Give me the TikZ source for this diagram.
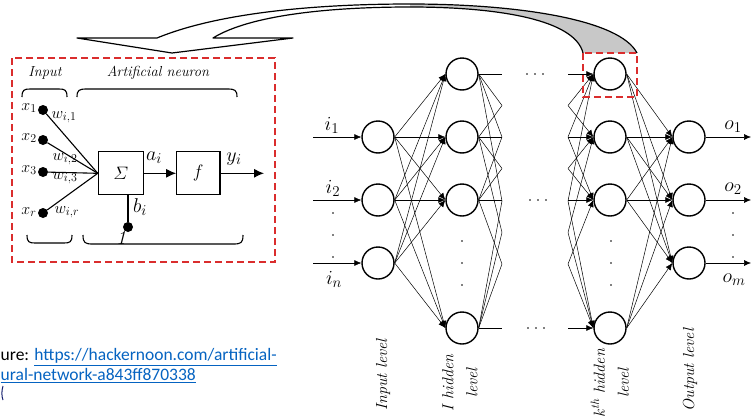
\RequirePackage{fix-cm}
\documentclass[tikz,border=0pt]{standalone}
\usepackage{amsmath}
\usepackage{fontspec}
\newfontfamily\linkfont{Carlito}
\usetikzlibrary{arrows.meta,calc}
\DeclareMathSizes{20}{20}{15}{11}
\DeclareMathSizes{16}{16}{12}{9}
\DeclareMathSizes{18}{18}{13.5}{10}
\definecolor{dashred}{RGB}{218,45,45}
\definecolor{linkblue}{RGB}{5,99,193}
\definecolor{navymark}{RGB}{20,30,110}
\definecolor{backside}{RGB}{200,200,200}

\begin{document}
\begin{tikzpicture}[x=1pt,y=-1pt,
  neuron/.style={circle,draw,line width=1.4pt,minimum size=32pt,inner sep=0pt},
  conn/.style={line width=0.5pt,-{Latex[length=7pt,width=6pt]}},
  part/.style={line width=0.5pt},
  pdot/.style={circle,fill,inner sep=0pt,minimum size=1.8pt},
  lab/.style={font=\fontsize{20}{22}\selectfont},
  levellab/.style={font=\itshape\fontsize{16}{24}\selectfont,rotate=90,align=center},
  inp/.style={circle,fill,inner sep=0pt,minimum size=10pt},
  unit/.style={draw,line width=1.1pt,minimum height=43pt,inner sep=0pt},
  wline/.style={line width=1.1pt},
  flow/.style={line width=1.1pt,-{Latex[length=10pt,width=9pt]}},
  small/.style={font=\fontsize{16}{18}\selectfont},
  mid/.style={font=\fontsize{20}{22}\selectfont},
  head/.style={font=\itshape\fontsize{14.5}{17}\selectfont},
  reddash/.style={draw=dashred,line width=1.5pt,dash pattern=on 7pt off 4pt},
  bracket/.style={line width=1.1pt}
]
\useasboundingbox (0,0) rectangle (753,418);

% ---------- curved block arrow from the k-th layer to the neuron detail ----------
\fill[backside] (637,53) .. controls (620,20) and (520,4) .. (410,4)
   -- (410,7) .. controls (500,7) and (575,20) .. (583,53) -- cycle;
\draw[line width=1.2pt,line join=round]
   (583,53) .. controls (575,20) and (500,7) .. (410,7)
   .. controls (330,7) and (250,15) .. (213,38)
   -- (293,38) -- (172,53) -- (77,38) -- (157,38)
   .. controls (220,12) and (320,4) .. (410,4)
   .. controls (520,4) and (620,20) .. (637,53);

% ---------- artificial neuron detail ----------
\draw[reddash] (12,58) rectangle (275,262);

\node[head] (hin) at (45,73) {Input};
\node[head] (hneu) at (158,73) {Artificial neuron};

\draw[bracket] (22,97) .. controls (22,90) and (24,89) .. (30,89) -- (59,89)
   .. controls (65,89) and (67,90) .. (67,97);
\draw[bracket] (77,97) .. controls (77,90) and (79,89) .. (87,89) -- (227,89)
   .. controls (235,89) and (237,90) .. (237,97);
\draw[bracket] (27,235) .. controls (27,242) and (29,243) .. (35,243) -- (64,243)
   .. controls (70,243) and (72,242) .. (72,235);
\draw[bracket] (83,235) .. controls (83,243) and (85,244) .. (93,244) -- (233,244)
   .. controls (241,244) and (243,243) .. (243,235);

\node[unit,minimum width=45pt,font=\fontsize{18}{20}\selectfont] (sum) at (120.8,173.3) {$\varSigma$};
\node[unit,minimum width=43.3pt,font=\fontsize{18}{20}\selectfont] (act) at (198.3,173.3) {$f$};
\coordinate (yout) at (264,173.3);

\node[inp] (x1) at (43,110) {};
\node[inp] (x2) at (43,140) {};
\node[inp] (x3) at (43,172) {};
\node[inp] (xr) at (43,213) {};
\node[inp] (bias) at (128,227) {};

\foreach \n in {x1,x2,x3,xr} \draw[wline] (\n) -- (sum.west);
\draw[wline] (bias) -- (bias |- sum.south);
\draw[flow] (sum) -- (act);
\draw[flow] (act) -- (yout);

\node[small] (lx1) at (29,108) {$x_1$};
\node[small] (lx2) at (29,138) {$x_2$};
\node[small] (lx3) at (29,170) {$x_3$};
\node[small] (lxr) at (29,212) {$x_r$};
\node[small] (lw1) at (64,117) {$w_{i,1}$};
\node[small] (lw2) at (65,159) {$w_{i,2}$};
\node[small] (lw3) at (65,178) {$w_{i,3}$};
\node[small] (lwr) at (67,212) {$w_{i,r}$};
\node[mid] (la) at (154,158) {$a_i$};
\node[mid] (ly) at (234,159) {$y_i$};
\node[mid] (lb) at (140,207) {$b_i$};
\node[mid] (lone) at (121,238) {\itshape 1};

% ---------- multilayer network ----------
\foreach \j/\y in {1/137,2/200,3/263} \node[neuron] (n\j) at (378,\y) {};
\foreach \j/\y in {1/74,2/137,3/200,4/328} \node[neuron] (h\j) at (462,\y) {};
\foreach \j/\y in {1/74,2/137,3/200,4/328} \node[neuron] (k\j) at (610,\y) {};
\foreach \j/\y in {1/137,2/200,3/263} \node[neuron] (o\j) at (689,\y) {};

% inputs and outputs
\foreach \j/\y in {1/137,2/200,3/263} {
  \coordinate (ia\j) at (313,\y);
  \draw[conn] (ia\j) -- (n\j.west);
  \coordinate (oa\j) at (751,\y);
  \draw[conn] (o\j.east) -- (oa\j);
}
\node[lab] (li1) at (332,125) {$i_1$};
\node[lab] (li2) at (333,188) {$i_2$};
\node[lab] (lin) at (334,279) {$i_n$};
\node[lab] (lo1) at (733,127) {$o_1$};
\node[lab] (lo2) at (733,189) {$o_2$};
\node[lab] (lom) at (734,280) {$o_m$};
\foreach \y in {213,235,257} {
  \node[pdot] at (333,\y) {};
  \node[pdot] at (733,\y) {};
}

% input level -> first hidden level
\foreach \a in {1,2,3} \foreach \b in {1,2,3,4} \draw[conn] (n\a.east) -- (h\b.west);

% first hidden level fanning out, k-th hidden level fanning in
\foreach \a/\ya in {1/74,2/137,3/200,4/328} {
  \foreach \b/\yb in {1/74,2/137,3/200,4/328} {
    \coordinate (p\a\b) at (502,{(\ya+\yb)/2});
    \draw[part] (h\a.east) -- (p\a\b);
    \coordinate (q\a\b) at (568,{(\ya+\yb)/2});
    \draw[conn] (q\a\b) -- (k\b.west);
  }
}

% k-th hidden level -> output level
\foreach \a in {1,2,3,4} \foreach \b in {1,2,3} \draw[conn] (k\a.east) -- (o\b.west);

% ellipses
\foreach \x in {527,535,543} {
  \node[pdot] at (\x,74) {};
  \node[pdot] at (\x+3,200) {};
  \node[pdot] at (\x+1,328) {};
}
\foreach \y in {241,263,285} {
  \node[pdot] at (462,\y) {};
  \node[pdot] at (611,\y) {};
}

\draw[reddash] (583,53) rectangle (637,97);

% level captions
\node[levellab] (cap1) at (383,375) {Input level};
\node[levellab] (cap2) at (460,383) {I hidden\\level};
\node[levellab] (cap3) at (610,383) {k\textsuperscript{th} hidden\\level};
\node[levellab] (cap4) at (690,370) {Output level};

% ---------- source note ----------
\node[anchor=base west,inner sep=0pt,font=\linkfont\fontsize{17.5}{20}\selectfont] (src1) at (0.5,360)
  {ure: \textcolor{linkblue}{\underline{https://hackernoon.com/artificial-}}};
\node[anchor=base west,inner sep=0pt,font=\linkfont\fontsize{17.5}{20}\selectfont] (src2) at (0.5,380)
  {\textcolor{linkblue}{\underline{ural-network-a843ff870338}}};
\draw[navymark,line width=1pt] (3,386) .. controls (1.5,391) and (1.5,396) .. (3,400);
\end{tikzpicture}
\end{document}
